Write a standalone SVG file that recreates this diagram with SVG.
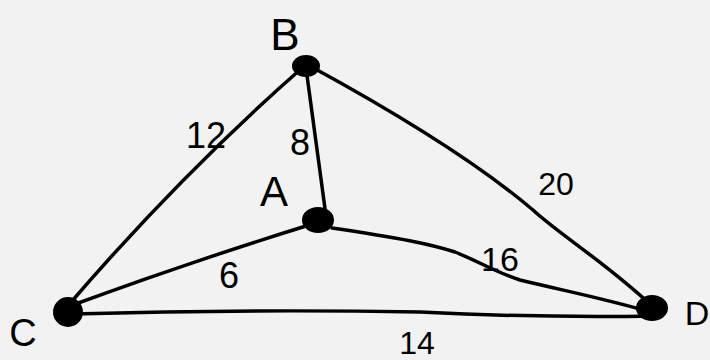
<svg xmlns="http://www.w3.org/2000/svg" width="710" height="360" viewBox="0 0 710 360">
<style>
.e{fill:none;stroke:#000;stroke-width:3.5;stroke-linecap:round;stroke-linejoin:round}
.n{fill:#000}
.t{font-family:"Liberation Sans",Arial,sans-serif;fill:#000;text-anchor:middle}
</style>
<rect width="710" height="360" fill="#f2f2f2"/>
<g id="connectors">
<path class="e" d="M302,68 Q180,175 66,308"/>
<path class="e" d="M306,68 L326,216"/>
<path class="e" d="M310,66 C400,115 480,165 533,210 C560,235 605,262 652,306"/>
<path class="e" d="M306,226 Q190,262 70,306"/>
<path class="e" d="M332,228 C400,238 430,244 455,252 C480,262 495,272 520,280 C570,292 610,300 650,312"/>
<path class="e" d="M72,314 Q250,309 420,312 Q540,318 655,316"/>
</g>
<g id="node-B"><ellipse class="n" cx="306" cy="66" rx="14" ry="11"/><text class="t" x="285" y="50" font-size="44">B</text></g>
<g id="node-A"><ellipse class="n" cx="318" cy="220" rx="16" ry="13"/><text class="t" x="274" y="206" font-size="42">A</text></g>
<g id="node-C"><ellipse class="n" cx="68" cy="312" rx="15" ry="15"/><text class="t" x="23" y="346" font-size="38">C</text></g>
<g id="node-D"><ellipse class="n" cx="652" cy="308" rx="16" ry="13"/><text class="t" x="697" y="325" font-size="34">D</text></g>
<g id="labels">
<text class="t" x="206" y="148" font-size="36">12</text>
<text class="t" x="300" y="155" font-size="36">8</text>
<text class="t" x="556" y="195" font-size="32">20</text>
<text class="t" x="500" y="271" font-size="34">16</text>
<text class="t" x="229" y="288" font-size="36">6</text>
<text class="t" x="417" y="354" font-size="32">14</text>
</g>
</svg>
